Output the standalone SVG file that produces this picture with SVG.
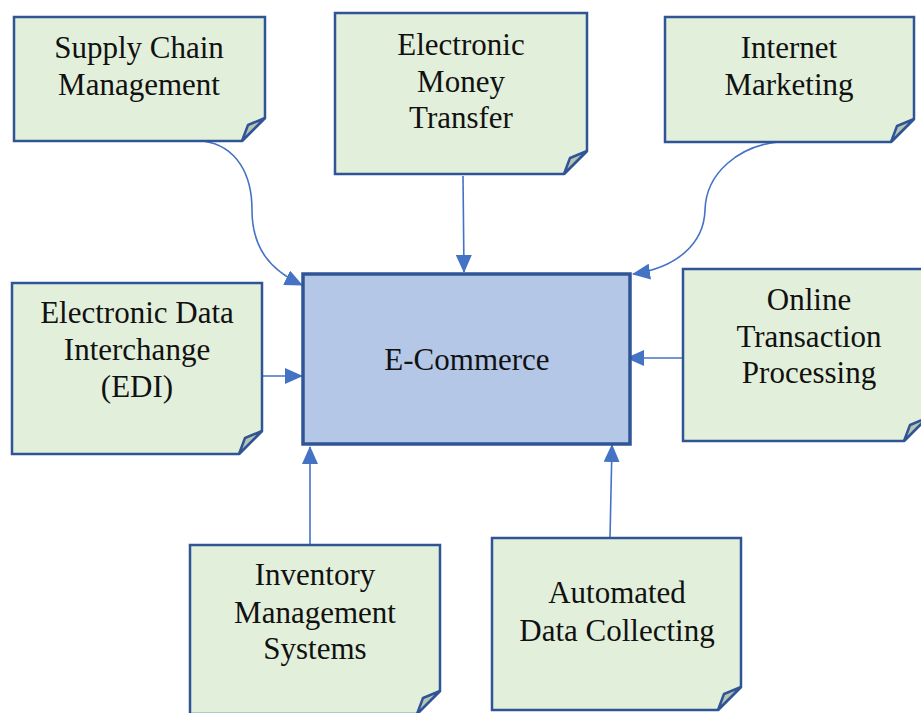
<svg xmlns="http://www.w3.org/2000/svg" width="921" height="713" viewBox="0 0 921 713">
  <style>
    .note { fill: #E2EFDA; stroke: #2F5597; stroke-width: 2.5; stroke-linejoin: miter; }
    .fold { fill: #B9C4B2; stroke: #2F5597; stroke-width: 2.5; stroke-linejoin: miter; }
    .hub { fill: #B4C7E7; stroke: #2F5597; stroke-width: 3.5; }
    .lbl { font-family: "Liberation Serif", "Times New Roman", serif; font-size: 31px; fill: #111; text-anchor: middle; }
    .link { fill: none; stroke: #4472C4; stroke-width: 1.6; marker-end: url(#head); }
  </style>
  <defs>
    <marker id="head" viewBox="0 0 18 16" refX="17" refY="8" markerWidth="18" markerHeight="16" markerUnits="userSpaceOnUse" orient="auto">
      <path d="M0,0 L18,8 L0,16 Z" fill="#4472C4"/>
    </marker>
  </defs>

  <!-- connectors -->
  <g id="connectors">
    <path class="link" d="M203,141 C238,146 252,176 252,210 C252,248 270,270 302,285"/>
    <path class="link" d="M463,176 L464,272"/>
    <path class="link" d="M778,142 C740,146 706,172 705,210 C704,245 675,268 633,274"/>
    <path class="link" d="M262,376 L302,376"/>
    <path class="link" d="M683,358 L627,358"/>
    <path class="link" d="M310,545 L310,447"/>
    <path class="link" d="M610,538 L612,445"/>
  </g>

  <!-- central node -->
  <g id="ecommerce">
    <rect class="hub" x="303" y="274" width="327" height="170"/>
    <text class="lbl" x="467" y="370">E-Commerce</text>
  </g>

  <g id="supply-chain">
    <path class="note" d="M14,17 H265 V118 L242,141 H14 Z"/>
    <path class="fold" d="M265,118 L248,125 L242,141 Z"/>
    <text class="lbl" x="139" y="58">Supply Chain</text>
    <text class="lbl" x="139" y="95">Management</text>
  </g>

  <g id="money-transfer">
    <path class="note" d="M335,13 H587 V151 L564,174 H335 Z"/>
    <path class="fold" d="M587,151 L570,158 L564,174 Z"/>
    <text class="lbl" x="461" y="55">Electronic</text>
    <text class="lbl" x="461" y="92">Money</text>
    <text class="lbl" x="461" y="128">Transfer</text>
  </g>

  <g id="internet-marketing">
    <path class="note" d="M665,17 H914 V119 L891,142 H665 Z"/>
    <path class="fold" d="M914,119 L897,126 L891,142 Z"/>
    <text class="lbl" x="789" y="58">Internet</text>
    <text class="lbl" x="789" y="95">Marketing</text>
  </g>

  <g id="edi">
    <path class="note" d="M12,283 H262 V431 L239,454 H12 Z"/>
    <path class="fold" d="M262,431 L245,438 L239,454 Z"/>
    <text class="lbl" x="137" y="323">Electronic Data</text>
    <text class="lbl" x="137" y="360">Interchange</text>
    <text class="lbl" x="137" y="397">(EDI)</text>
  </g>

  <g id="online-transaction">
    <path class="note" d="M683,269 H927 V418 L904,441 H683 Z"/>
    <path class="fold" d="M927,418 L910,425 L904,441 Z"/>
    <text class="lbl" x="809" y="310">Online</text>
    <text class="lbl" x="809" y="347">Transaction</text>
    <text class="lbl" x="809" y="383">Processing</text>
  </g>

  <g id="inventory">
    <path class="note" d="M190,545 H440 V691 L417,714 H190 Z"/>
    <path class="fold" d="M440,691 L423,698 L417,714 Z"/>
    <text class="lbl" x="315" y="585">Inventory</text>
    <text class="lbl" x="315" y="623">Management</text>
    <text class="lbl" x="315" y="659">Systems</text>
  </g>

  <g id="data-collecting">
    <path class="note" d="M492,538 H741 V687 L718,710 H492 Z"/>
    <path class="fold" d="M741,687 L724,694 L718,710 Z"/>
    <text class="lbl" x="617" y="603">Automated</text>
    <text class="lbl" x="617" y="641">Data Collecting</text>
  </g>
</svg>
